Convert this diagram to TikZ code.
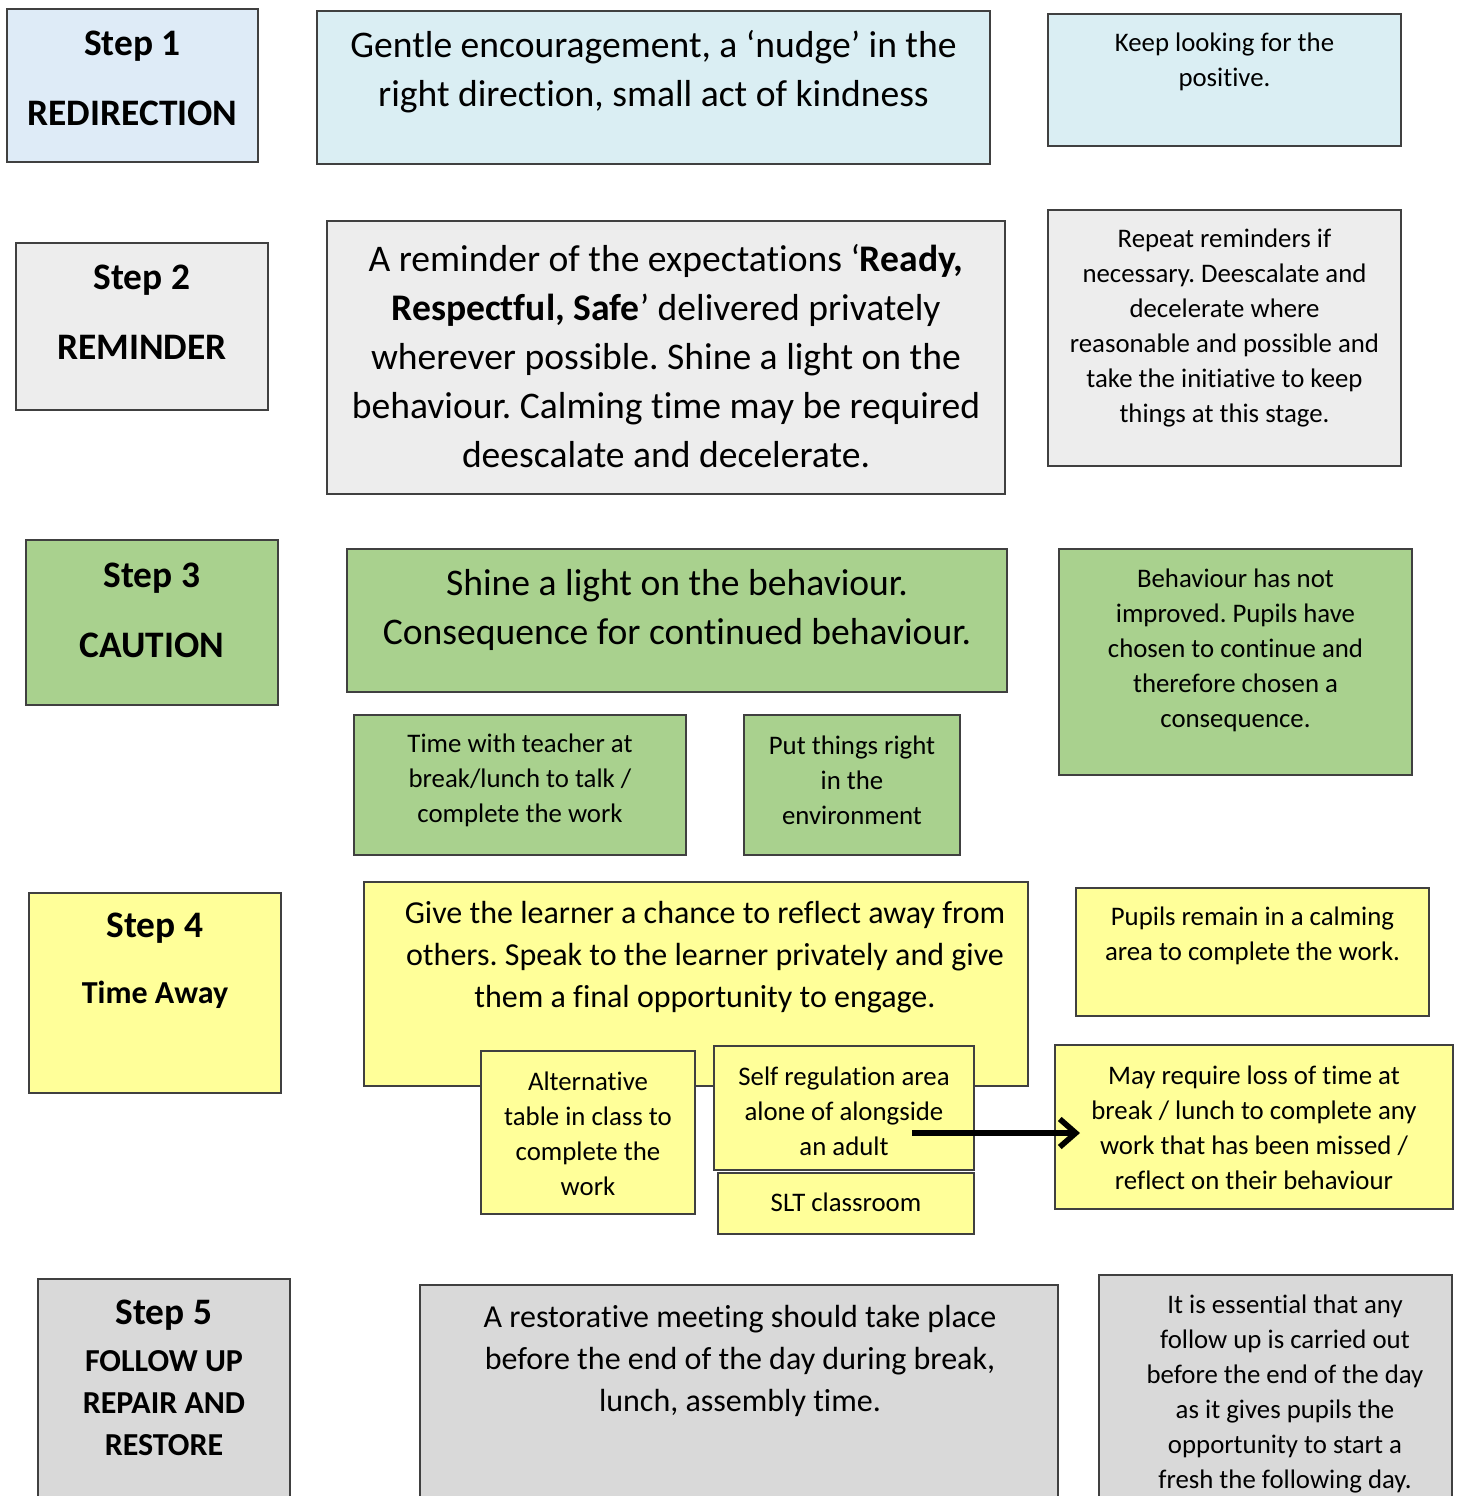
\documentclass[tikz,border=0pt]{standalone}
\usepackage{fontspec}
\setmainfont{Carlito}[Ligatures={NoCommon}]
\usetikzlibrary{arrows.meta}
\frenchspacing

\definecolor{stepblue}{HTML}{DEEBF7}
\definecolor{paleblue}{HTML}{DAEEF3}
\definecolor{palegray}{HTML}{EDEDED}
\definecolor{leafgreen}{HTML}{A9D18E}
\definecolor{paleyellow}{HTML}{FFFF99}
\definecolor{midgray}{HTML}{D9D9D9}

\begin{document}
\begin{tikzpicture}[x=0.5pt,y=-0.5pt]
        \tikzstyle{box}=[draw=black!75, line width=0.6pt, inner sep=0pt]
        \tikzstyle{txt}=[align=center, inner sep=0pt, yshift=-1.3pt]
        \tikzstyle{bigtxt}=[txt, font=\fontsize{18.8}{24.5}\selectfont]
        \tikzstyle{medtxt}=[txt, font=\fontsize{16}{21}\selectfont]
        \tikzstyle{smalltxt}=[txt, font=\fontsize{13.4}{17.5}\selectfont]
        \tikzstyle{steptxt}=[txt, yshift=1pt, font=\bfseries\fontsize{18.7}{35}\selectfont]
        \tikzstyle{subtxt}=[txt, yshift=1pt, font=\bfseries\fontsize{16}{21}\selectfont]
        \useasboundingbox (0,0) rectangle (1460,1496);
        \clip (0,0) rectangle (1460,1496);

        % step 1, redirection
        \node[box, fill=stepblue, minimum width=125.5pt, minimum height=76.5pt] at (132.5, 85.5) (s1) {};
        \node[steptxt] at (132.5, 78) (s1t) {Step 1\\REDIRECTION};
        \node[box, fill=paleblue, minimum width=336.5pt, minimum height=76.5pt] at (653.5, 87.5) (gentle) {};
        \node[bigtxt] at (653.5, 69.5) (gentlet) {Gentle encouragement, a ‘nudge’ in the\\right direction, small act of kindness};
        \node[box, fill=paleblue, minimum width=176.5pt, minimum height=66pt] at (1224.5, 80) (keep) {};
        \node[smalltxt] at (1224.5, 59.5) (keept) {Keep looking for the\\positive.};

        % step 2, reminder
        \node[box, fill=palegray, minimum width=126pt, minimum height=83.5pt] at (142, 326.5) (s2) {};
        \node[steptxt] at (142, 312) (s2t) {Step 2\\REMINDER};
        \node[box, fill=palegray, minimum width=339pt, minimum height=136.5pt] at (666, 357.5) (remind) {};
        \node[bigtxt] at (666, 353.5) (remindt) {A reminder of the expectations ‘\textbf{Ready,}\\\textbf{Respectful, Safe}’ delivered privately\\wherever possible. Shine a light on the\\behaviour. Calming time may be required\\deescalate and decelerate.};
        \node[box, fill=palegray, minimum width=176.5pt, minimum height=128pt] at (1224.5, 338) (repeat) {};
        \node[smalltxt] at (1224.5, 325.5) (repeatt) {Repeat reminders if\\necessary. Deescalate and\\decelerate where\\reasonable and possible and\\take the initiative to keep\\things at this stage.};

        % step 3, caution
        \node[box, fill=leafgreen, minimum width=126pt, minimum height=82.5pt] at (152, 622.5) (s3) {};
        \node[steptxt] at (152, 609.5) (s3t) {Step 3\\CAUTION};
        \node[box, fill=leafgreen, minimum width=330pt, minimum height=71.5pt] at (677, 620.5) (shine) {};
        \node[bigtxt] at (677, 607.5) (shinet) {Shine a light on the behaviour.\\Consequence for continued behaviour.};
        \node[box, fill=leafgreen, minimum width=176.5pt, minimum height=113pt] at (1235.5, 662) (notimp) {};
        \node[smalltxt] at (1235.5, 647.5) (notimpt) {Behaviour has not\\improved. Pupils have\\chosen to continue and\\therefore chosen a\\consequence.};
        \node[box, fill=leafgreen, minimum width=166pt, minimum height=70pt] at (520, 785) (teacher) {};
        \node[smalltxt] at (520, 778) (teachert) {Time with teacher at\\break/lunch to talk /\\complete the work};
        \node[box, fill=leafgreen, minimum width=108pt, minimum height=70pt] at (852, 785) (putright) {};
        \node[smalltxt] at (852, 778) (putrightt) {Put things right\\in the\\environment};

        % step 4, time away
        \node[box, fill=paleyellow, minimum width=126pt, minimum height=100pt] at (155, 993) (s4) {};
        \node[txt, yshift=1pt, font=\bfseries\fontsize{18.7}{21}\selectfont] at (155, 928) (s4t) {Step 4};
        \node[subtxt] at (155, 994) (s4s) {Time Away};
        \node[box, fill=paleyellow, minimum width=332pt, minimum height=102pt] at (696, 984) (reflect) {};
        \node[medtxt] at (705, 955) (reflectt) {Give the learner a chance to reflect away from\\others. Speak to the learner privately and give\\them a final opportunity to engage.};
        \node[box, fill=paleyellow, minimum width=176.5pt, minimum height=64pt] at (1252.5, 952) (calming) {};
        \node[smalltxt] at (1252.5, 933.5) (calmingt) {Pupils remain in a calming\\area to complete the work.};
        \node[box, fill=paleyellow, minimum width=107pt, minimum height=81.5pt] at (588, 1132.5) (alttable) {};
        \node[smalltxt] at (588, 1131.5) (alttablet) {Alternative\\table in class to\\complete the\\work};
        \node[box, fill=paleyellow, minimum width=130pt, minimum height=62pt] at (844, 1108) (selfreg) {};
        \node[smalltxt] at (844, 1109) (selfregt) {Self regulation area\\alone of alongside\\an adult};
        \node[box, fill=paleyellow, minimum width=128pt, minimum height=30.5pt] at (846, 1203.5) (slt) {};
        \node[smalltxt] at (846, 1200) (sltt) {SLT classroom};
        \node[box, fill=paleyellow, minimum width=199pt, minimum height=82pt] at (1254, 1127) (losstime) {};
        \node[smalltxt] at (1254, 1125.5) (losstimet) {May require loss of time at\\break / lunch to complete any\\work that has been missed /\\reflect on their behaviour};

        % arrow from the self regulation box over to the loss of time box
        \coordinate (arrstart) at (912, 1133);
        \coordinate (arrend) at (1080, 1133);
        \draw[line width=2.8pt, -{Straight Barb[length=8pt, width=14pt]}] (arrstart) -- (arrend);

        % step 5, follow up
        \node[box, fill=midgray, minimum width=126pt, minimum height=125.5pt] at (164, 1404.5) (s5) {};
        \node[txt, yshift=1pt, font=\bfseries\fontsize{18.7}{21}\selectfont] at (164, 1315) (s5t) {Step 5};
        \node[subtxt] at (164, 1402) (s5s) {FOLLOW UP\\REPAIR AND\\RESTORE};
        \node[box, fill=midgray, minimum width=319pt, minimum height=122.5pt] at (739, 1407.5) (restore) {};
        \node[medtxt] at (740, 1358) (restoret) {A restorative meeting should take place\\before the end of the day during break,\\lunch, assembly time.};
        \node[box, fill=midgray, minimum width=176.5pt, minimum height=127.5pt] at (1275.5, 1402.5) (essential) {};
        \node[smalltxt] at (1285, 1391.5) (essentialt) {It is essential that any\\follow up is carried out\\before the end of the day\\as it gives pupils the\\opportunity to start a\\fresh the following day.};
    \end{tikzpicture}
\end{document}
